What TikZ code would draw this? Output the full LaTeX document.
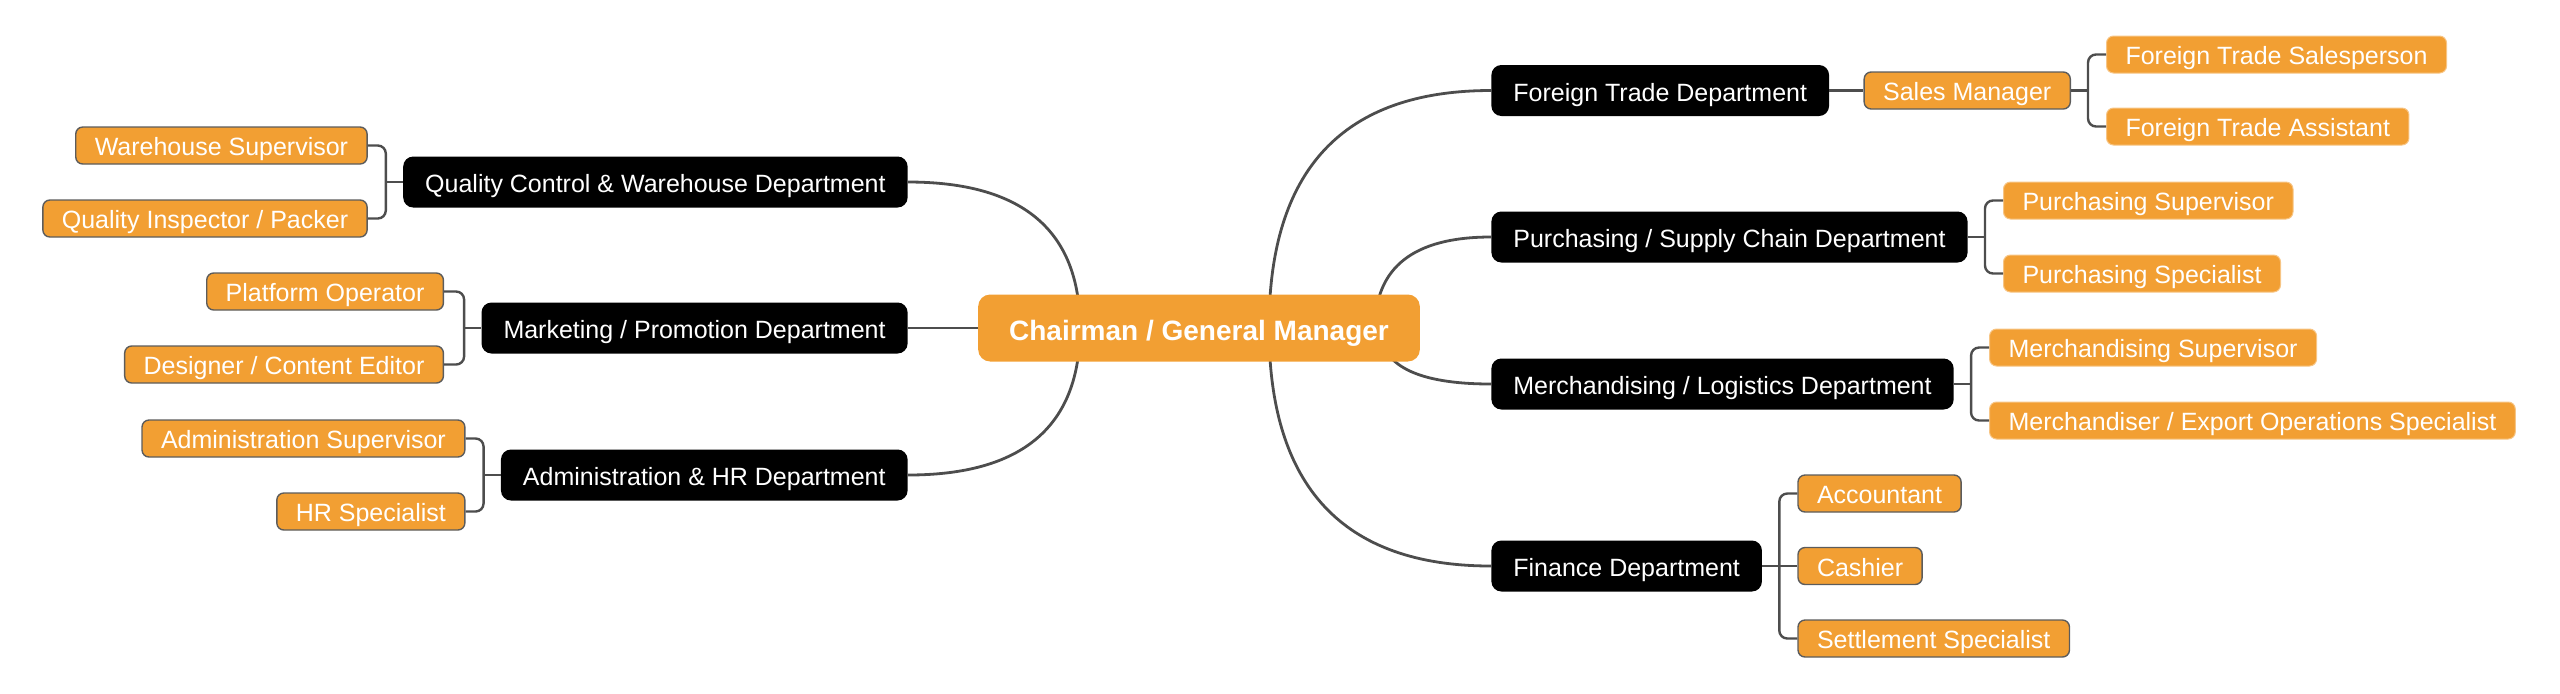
\documentclass[tikz,border=0pt]{standalone}
\usepackage{fontspec}
\setmainfont{Liberation Sans}
\usetikzlibrary{calc,backgrounds}
\definecolor{mmorange}{HTML}{F29F33}
\definecolor{mmline}{HTML}{4D4D4D}
\definecolor{mmedge}{HTML}{5C5C5C}
\tikzset{
  root/.style={fill=mmorange, text=white, rounded corners=6pt, minimum height=33.5pt,
    inner xsep=15.5pt, inner ysep=0pt, font=\fontsize{14}{16}\selectfont\bfseries,
    text height=13pt, text depth=0.5pt},
  dept/.style={fill=black, text=white, rounded corners=5pt, minimum height=25.5pt,
    inner xsep=11pt, inner ysep=0pt, font=\fontsize{12.5}{15}\selectfont,
    text height=11pt, text depth=0.5pt},
  role/.style={fill=mmorange, draw=mmedge, line width=0.7pt, text=white, rounded corners=3.5pt,
    minimum height=18.5pt, inner xsep=9.5pt, inner ysep=0pt, font=\fontsize{12.5}{15}\selectfont,
    text height=10.5pt, text depth=0.5pt},
  rolefree/.style={role, draw=mmorange!60!white, line width=0.5pt},
  branch/.style={draw=mmline, line width=1.4pt},
  bracket/.style={draw=mmline, line width=1.2pt, rounded corners=4pt},
}
\newcommand{\branchcurve}[2]{\draw[branch] (#1) .. controls ($(#1)!0.667!(#1|-#2)$) and ($(#2)!0.667!(#1|-#2)$) .. (#2);}

\begin{document}
\begin{tikzpicture}[x=0.5pt, y=-0.5pt]
      \useasboundingbox (0,0) rectangle (2560,693);
      \node[root] (chair) at (1199,328) {Chairman / General Manager};
      % left departments
      \node[dept, anchor=east] (qc) at (908,182) {Quality Control \& Warehouse Department};
      \node[dept, anchor=east] (mkt) at (908,328) {Marketing / Promotion Department};
      \node[dept, anchor=east] (adm) at (908,475) {Administration \& HR Department};
      \node[role, anchor=east] (ws) at ($(qc.west)+(-35,-36.5)$) {Warehouse Supervisor};
      \node[role, anchor=east] (qi) at ($(qc.west)+(-35,36.5)$) {Quality Inspector / Packer};
      \node[role, anchor=east] (po) at ($(mkt.west)+(-37,-36.5)$) {Platform Operator};
      \node[role, anchor=east] (de) at ($(mkt.west)+(-37,36.5)$) {Designer / Content Editor};
      \node[role, anchor=east] (as) at ($(adm.west)+(-35,-36.5)$) {Administration Supervisor};
      \node[role, anchor=east] (hr) at ($(adm.west)+(-35,36.5)$) {HR Specialist};
      % right departments
      \node[dept, anchor=west] (ft) at (1491,90.5) {Foreign Trade Department};
      \node[dept, anchor=west] (pur) at (1491,237) {Purchasing / Supply Chain Department};
      \node[dept, anchor=west] (mer) at (1491,384) {Merchandising / Logistics Department};
      \node[dept, anchor=west] (fin) at (1491,566) {Finance Department};
      \node[role, anchor=west] (sm) at ($(ft.east)+(34,0)$) {Sales Manager};
      \node[rolefree, anchor=west] (fts) at ($(sm.east)+(35,-36)$) {Foreign Trade Salesperson};
      \node[rolefree, anchor=west] (fta) at ($(sm.east)+(35,36)$) {Foreign Trade Assistant};
      \node[rolefree, anchor=west] (ps) at ($(pur.east)+(35,-36.5)$) {Purchasing Supervisor};
      \node[rolefree, anchor=west] (psp) at ($(pur.east)+(35,36.5)$) {Purchasing Specialist};
      \node[rolefree, anchor=west] (ms) at ($(mer.east)+(35,-36.5)$) {Merchandising Supervisor};
      \node[rolefree, anchor=west] (meo) at ($(mer.east)+(35,36.5)$) {Merchandiser / Export Operations Specialist};
      \node[role, anchor=west] (acc) at ($(fin.east)+(35,-72.5)$) {Accountant};
      \node[role, anchor=west] (cas) at ($(fin.east)+(35,0)$) {Cashier};
      \node[role, anchor=west] (set) at ($(fin.east)+(35,72.5)$) {Settlement Specialist};
      % junctions
      \coordinate (jqc) at ($(qc.west)+(-17,0)$);
      \coordinate (jmkt) at ($(mkt.west)+(-17,0)$);
      \coordinate (jadm) at ($(adm.west)+(-17,0)$);
      \coordinate (jsm) at ($(sm.east)+(17,0)$);
      \coordinate (jpur) at ($(pur.east)+(17,0)$);
      \coordinate (jmer) at ($(mer.east)+(17,0)$);
      \coordinate (jfin) at ($(fin.east)+(17,0)$);
      \draw[bracket] (qc.west) -- (jqc);
      \draw[bracket] (ws.east) -| (qi.east -| jqc) -- (qi.east);
      \draw[bracket] (mkt.west) -- (jmkt);
      \draw[bracket] (po.east) -| (de.east -| jmkt) -- (de.east);
      \draw[bracket] (adm.west) -- (jadm);
      \draw[bracket] (as.east) -| (hr.east -| jadm) -- (hr.east);
      \draw[bracket] (ft.east) -- (sm.west);
      \draw[bracket] (sm.east) -- (jsm);
      \draw[bracket] (fts.west) -| (fta.west -| jsm) -- (fta.west);
      \draw[bracket] (pur.east) -- (jpur);
      \draw[bracket] (ps.west) -| (psp.west -| jpur) -- (psp.west);
      \draw[bracket] (mer.east) -- (jmer);
      \draw[bracket] (ms.west) -| (meo.west -| jmer) -- (meo.west);
      \draw[bracket] (fin.east) -- (cas.west);
      \draw[bracket] (acc.west) -| (set.west -| jfin) -- (set.west);
      % main branches, behind the root
      \begin{pgfonlayer}{background}
        \coordinate (srcL) at (1080,328);
        \coordinate (srcR) at (1269,328);
        \coordinate (srcP) at (1375,328);
        \coordinate (srcM) at (1380,328);
        \branchcurve{srcL}{qc.east}
        \branchcurve{srcL}{adm.east}
        \draw[branch] (chair.west) -- (mkt.east);
        \branchcurve{srcR}{ft.west}
        \branchcurve{srcR}{fin.west}
        \branchcurve{srcP}{pur.west}
        \branchcurve{srcM}{mer.west}
      \end{pgfonlayer}
\end{tikzpicture}
\end{document}
